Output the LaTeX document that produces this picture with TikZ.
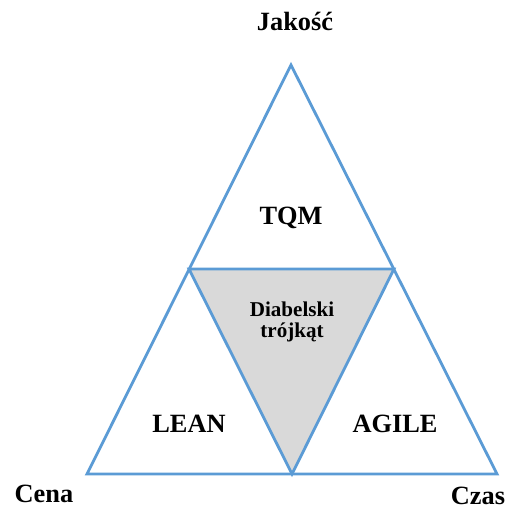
\documentclass[tikz,border=0pt]{standalone}
\usepackage{fontspec}
\setmainfont{Liberation Serif}
\usepackage{xcolor}
\definecolor{lineblue}{HTML}{5B9BD5}
\definecolor{devilgray}{HTML}{D9D9D9}

\begin{document}
\begin{tikzpicture}[x=0.02cm,y=-0.02cm,
    edge/.style={draw=lineblue,line width=1.6pt,line join=miter},
    lbl/.style={font=\fontsize{15}{17}\selectfont\bfseries,inner sep=0pt},
    small/.style={font=\fontsize{12}{11.5}\selectfont\bfseries,align=center,inner sep=0pt}]
            \useasboundingbox (0,0) rectangle (509,509);
            \coordinate (top) at (291,65);
            \coordinate (left) at (87,474);
            \coordinate (right) at (497,474);
            \coordinate (ml) at (189,269);
            \coordinate (mr) at (394,269);
            \coordinate (mb) at (292,474);
            \fill[devilgray] (ml)--(mr)--(mb)--cycle;
            \draw[edge] (top)--(right)--(left)--cycle;
            \draw[edge] (ml)--(mr)--(mb)--cycle;
            \node[lbl] (jakosc) at (295,21) {Jakość};
            \node[lbl] (cena) at (44,494) {Cena};
            \node[lbl] (czas) at (478,496) {Czas};
            \node[lbl] (tqm) at (291,218) {TQM};
            \node[lbl] (lean) at (189,424) {LEAN};
            \node[lbl] (agile) at (395,424) {AGILE};
            \node[small] (devil) at (292,322) {Diabelski\\trójkąt};
             \end{tikzpicture}
\end{document}
